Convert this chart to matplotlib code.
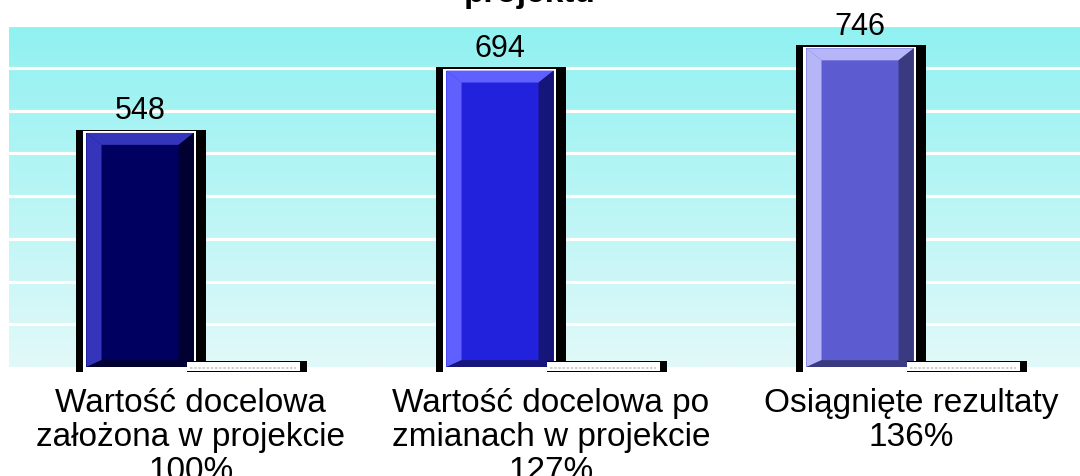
import numpy as np
import matplotlib
matplotlib.use("Agg")
import matplotlib.pyplot as plt
from matplotlib.colors import LinearSegmentedColormap
from matplotlib.patches import Polygon

# -----------------------------
# Data
# -----------------------------
categories = ["Wartość docelowa\nzałożona w projekcie\n100%",
              "Wartość docelowa po\nzmianach w projekcie\n127%",
              "Osiągnięte rezultaty\n136%"]
values = [548, 694, 746]
percent = [100, 127, 136]   # second (flat) series

# bar colours: (left/top bevel, face, right/bottom bevel)
bar_colors = [("#3535bb", "#000060", "#000033"),
              ("#6060ff", "#2222dd", "#16167a"),
              ("#b5b5f8", "#5c5cd0", "#3a3a80")]

plt.rcParams['font.family'] = ['Liberation Sans', 'DejaVu Sans']

fig = plt.figure(figsize=(10.8, 4.76), dpi=100)
ax = fig.add_axes([9 / 1080, (476 - 367) / 476, 1 - 9 / 1080, (367 - 24) / 476])

xmin, xmax = -0.505, 2.47
ymin, ymax = 0, 803
ax.set_xlim(xmin, xmax)
ax.set_ylim(ymin, ymax)

# gradient background
cmap = LinearSegmentedColormap.from_list("bg", ["#e2f9f9", "#90f1f1"])
ax.imshow(np.linspace(0, 1, 256).reshape(-1, 1), origin="lower", cmap=cmap,
          extent=[xmin, xmax, ymin, ymax], aspect="auto", zorder=0)

# white grid lines
for yv in range(100, 900, 100):
    ax.axhline(yv, color="white", lw=2.3, zorder=1)

x = np.arange(len(values))
off_main, w_main = -0.141, 0.298
off_sec, w_sec = 0.156, 0.334

bx = 0.042    # bevel width (x units)
by_top = 28   # bevel height top (y units)
by_bot = 16

for i, v in enumerate(values):
    cx = x[i] + off_main
    light, face, dark = bar_colors[i]
    # black shadow frame and white border
    ax.bar(cx + 0.003, v + 20, width=w_main + 0.064, bottom=-12, color="black",
           zorder=2, clip_on=False)
    ax.bar(cx - 0.002, v + 16, width=w_main + 0.017, bottom=-12, color="white",
           zorder=3, clip_on=False)
    # main face
    ax.bar(cx, v, width=w_main, color=face, zorder=4)
    l, r = cx - w_main / 2, cx + w_main / 2
    ax.add_patch(Polygon([(l, 0), (l, v), (l + bx, v - by_top), (l + bx, by_bot)],
                         closed=True, color=light, zorder=5, lw=0))
    ax.add_patch(Polygon([(l, v), (r, v), (r - bx, v - by_top), (l + bx, v - by_top)],
                         closed=True, color=light, zorder=5, lw=0))
    ax.add_patch(Polygon([(r, v), (r, 0), (r - bx, by_bot), (r - bx, v - by_top)],
                         closed=True, color=dark, zorder=5, lw=0))
    ax.add_patch(Polygon([(l, 0), (r, 0), (r - bx, by_bot), (l + bx, by_bot)],
                         closed=True, color=dark, zorder=5, lw=0))
    ax.text(cx, v + 16, str(v), ha="center", va="bottom", fontsize=22, zorder=6)

    # second, flat series
    sx = x[i] + off_sec
    h = percent[i] / 100
    ax.bar(sx, h + 24, width=w_sec, bottom=-12, color="black", zorder=6, clip_on=False)
    ax.bar(sx - 0.01, h + 20, width=w_sec - 0.02, bottom=-10, color="white",
           zorder=7, clip_on=False)
    ax.plot([sx - w_sec / 2 + 0.01, sx + w_sec / 2 - 0.03], [-2, -2], color="#c8c8d0",
            lw=1.2, ls=(0, (1.5, 1)), zorder=8, clip_on=False)

for i, lab in enumerate(categories):
    ax.text(x[i], -50, lab, ha="center", va="top", fontsize=24, linespacing=1.12,
            clip_on=False)

ax.set_xticks([])
ax.set_yticks([])
for s in ax.spines.values():
    s.set_visible(False)

# title (cut off at the top of the picture, as in the original)
fig.text(530 / 1080, 1 - 2 / 476, "projektu", ha="center", va="baseline",
         fontsize=24, fontweight="bold")

fig.savefig("out.png", dpi=100)
